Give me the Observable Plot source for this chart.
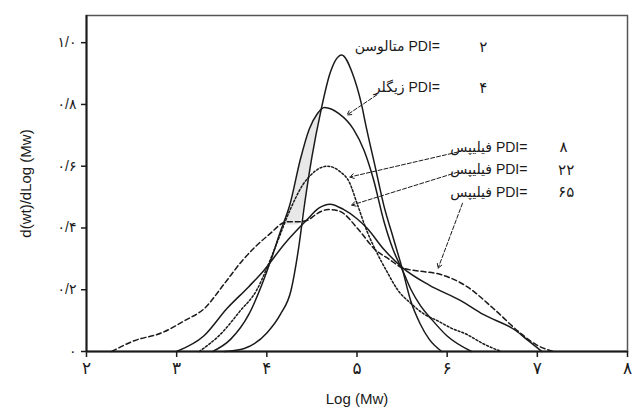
<!DOCTYPE html>
<html>
<head>
<meta charset="utf-8">
<script src="https://cdn.jsdelivr.net/npm/d3@7"></script>
<script src="https://cdn.jsdelivr.net/npm/@observablehq/plot@0.6"></script>
<style>
  html, body { margin: 0; padding: 0; background: #fff; }
  #chart { width: 635px; height: 410px; }
</style>
</head>
<body>
<div id="chart"></div>
<script>
// Tick values and labels (Persian digits)
const xTicks = [2, 3, 4, 5, 6, 7, 8];
const xTickLabels = ["۲", "۳", "۴", "۵", "۶", "۷", "۸"];
const yTicks = [0, 0.2, 0.4, 0.6, 0.8, 1.0];
const yTickLabels = ["۰", "۰/۲", "۰/۴", "۰/۶", "۰/۸", "۱/۰"];

// Series: [log Mw, d(wt)/dLog(Mw)]
const metallocenePDI2 = [[3.53,0],[3.75,0.01],[4.0,0.06],[4.15,0.12],[4.27,0.2],[4.35,0.33],[4.42,0.48],[4.5,0.63],[4.6,0.78],[4.7,0.9],[4.83,0.96],[4.95,0.9],[5.05,0.8],[5.1,0.73],[5.2,0.6],[5.3,0.47],[5.4,0.37],[5.5,0.27],[5.6,0.16],[5.7,0.09],[5.8,0.04],[5.94,0]];
const zieglerPDI4 = [[3.4,0],[3.6,0.04],[3.8,0.12],[3.95,0.22],[4.05,0.3],[4.14,0.38],[4.26,0.48],[4.37,0.62],[4.47,0.72],[4.56,0.77],[4.64,0.79],[4.8,0.77],[4.96,0.72],[5.08,0.65],[5.18,0.56],[5.3,0.42],[5.4,0.33],[5.51,0.26],[5.6,0.2],[5.7,0.15],[5.84,0.1],[6.0,0.05],[6.27,0]];
const phillipsPDI8 = [[3.25,0],[3.5,0.06],[3.7,0.13],[3.89,0.2],[4.0,0.27],[4.11,0.35],[4.26,0.46],[4.4,0.54],[4.5,0.575],[4.67,0.6],[4.8,0.585],[4.92,0.545],[5.0,0.48],[5.11,0.39],[5.22,0.32],[5.33,0.26],[5.45,0.2],[5.6,0.155],[5.75,0.12],[5.89,0.1],[6.05,0.075],[6.22,0.055],[6.4,0.025],[6.6,0]];
const phillipsPDI22 = [[3.0,0],[3.3,0.05],[3.56,0.14],[3.8,0.21],[3.96,0.26],[4.2,0.35],[4.44,0.425],[4.58,0.465],[4.7,0.477],[4.85,0.46],[5.0,0.43],[5.11,0.4],[5.3,0.33],[5.51,0.27],[5.8,0.215],[6.15,0.165],[6.4,0.12],[6.76,0.068],[6.9,0.035],[7.05,0]];
const phillipsPDI65 = [[2.28,0],[2.53,0.035],[2.83,0.06],[3.09,0.1],[3.31,0.14],[3.53,0.22],[3.73,0.295],[4.03,0.38],[4.22,0.42],[4.35,0.42],[4.45,0.425],[4.55,0.445],[4.68,0.46],[4.8,0.455],[5.03,0.39],[5.2,0.33],[5.35,0.3],[5.51,0.27],[5.7,0.26],[5.92,0.25],[6.22,0.21],[6.51,0.14],[6.81,0.06],[7.0,0.02],[7.18,0]];

// Light grey shaded sliver between curves
const shadeX = [4.2, 4.27, 4.35, 4.42, 4.5, 4.6];
const shadeTop = [0.41, 0.47, 0.58, 0.66, 0.73, 0.78];
const shadeBottom = [0.41, 0.41, 0.41, 0.48, 0.63, 0.78];

// Annotation text
const seriesNames = ["متالوسن", "زیگلر", "فیلیپس", "فیلیپس", "فیلیپس"];
const pdiValues = ["۲", "۴", "۸", "۲۲", "۶۵"];
// Annotation anchors (data coordinates)
const labelEndX = [5.92, 5.92, 6.89, 6.89, 6.89];
const labelY = [0.987, 0.854, 0.662, 0.588, 0.516];
const pdiX = [6.4, 6.4, 7.29, 7.32, 7.32];
// Leader arrows (rows 2–5)
const arrowFromX = [5.22, 6.12, 6.12, 6.17];
const arrowFromY = [0.831, 0.646, 0.581, 0.48];
const arrowToX = [4.89, 4.92, 4.94, 5.9];
const arrowToY = [0.766, 0.565, 0.474, 0.27];

const toRows = (pts) => pts.map(([x, y]) => ({x, y}));
const series = [
  {data: toRows(metallocenePDI2), dash: null},
  {data: toRows(zieglerPDI4), dash: null},
  {data: toRows(phillipsPDI8), dash: "2,2"},
  {data: toRows(phillipsPDI22), dash: null},
  {data: toRows(phillipsPDI65), dash: "5,3"}
];
const shade = shadeX.map((x, i) => ({x, y1: shadeBottom[i], y2: shadeTop[i]}));
const labels = seriesNames.map((n, i) => ({text: n + " PDI=", x: labelEndX[i], y: labelY[i], num: pdiValues[i], nx: pdiX[i]}));
const arrows = arrowFromX.map((x1, i) => ({x1, y1: arrowFromY[i], x2: arrowToX[i], y2: arrowToY[i]}));

const ink = "#1a1a1a";
const font = "'Liberation Sans', Arial, 'DejaVu Sans', sans-serif";

const chart = Plot.plot({
  width: 635,
  height: 410,
  marginLeft: 86,
  marginRight: 8,
  marginTop: 15,
  marginBottom: 59,
  style: {fontFamily: font, color: ink, background: "#fff"},
  x: {domain: [2, 8]},
  y: {domain: [0, 1.088]},
  marks: [
    Plot.areaY(shade, {x: "x", y1: "y1", y2: "y2", curve: "monotone-x", fill: "#e8e8e8"}),
    Plot.frame({stroke: "#555", strokeWidth: 1.5}),
    Plot.axisX({ticks: xTicks, tickFormat: (d) => xTickLabels[xTicks.indexOf(d)], tickSize: 6, tickPadding: 4, fontSize: 17,
      label: "Log (Mw)", labelAnchor: "center", labelArrow: "none", labelOffset: 52, stroke: ink, strokeWidth: 1.5}),
    Plot.axisY({ticks: yTicks, tickFormat: (d) => yTickLabels[yTicks.indexOf(d)], tickSize: 5, tickPadding: 5, fontSize: 14,
      label: "d(wt)/dLog (Mw)", labelAnchor: "center", labelArrow: "none", labelOffset: 66, stroke: ink, strokeWidth: 1.5}),
    Plot.ruleX([2], {stroke: ink, strokeWidth: 2}),
    Plot.ruleY([0], {stroke: ink, strokeWidth: 2}),
    ...series.map((s) => Plot.line(s.data, {x: "x", y: "y", curve: "monotone-x", stroke: ink, strokeWidth: 1.5, strokeDasharray: s.dash})),
    Plot.arrow(arrows, {x1: "x1", y1: "y1", x2: "x2", y2: "y2", stroke: ink, strokeWidth: 1, strokeDasharray: "4,2", headLength: 7, bend: 0}),
    Plot.text(labels, {x: "x", y: "y", text: "text", textAnchor: "end", fontSize: 14, fill: ink}),
    Plot.text(labels, {x: "nx", y: "y", text: "num", textAnchor: "middle", fontSize: 15, fill: ink})
  ]
});
chart.querySelectorAll("g[aria-label='x-axis label'] text, g[aria-label='y-axis label'] text").forEach(t => t.setAttribute("font-size", 15));
document.getElementById("chart").appendChild(chart);
</script>
</body>
</html>
